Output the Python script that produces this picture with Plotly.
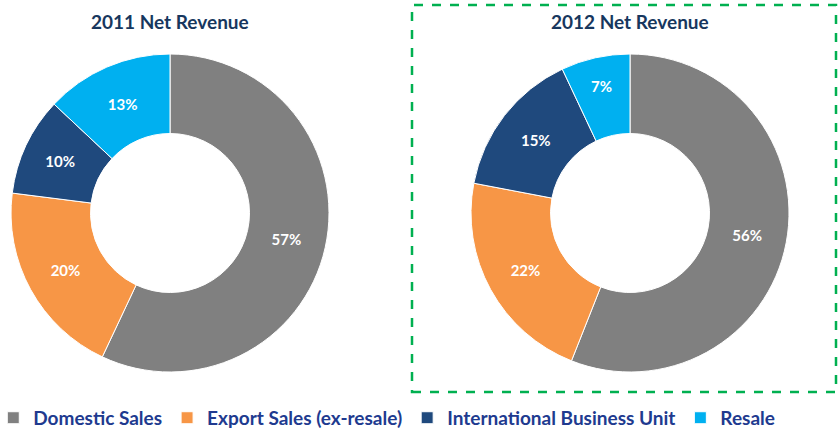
import plotly.graph_objects as go

# --- data ---
CATEGORIES = ["Domestic Sales", "Export Sales (ex-resale)", "International Business Unit", "Resale"]
REV_2011 = [57, 20, 10, 13]
REV_2012 = [56, 22, 15, 7]
COLORS = ["#808080", "#F79646", "#1F497D", "#00B0F0"]

W, H = 840, 430
FONT = "Lato"

fig = go.Figure()

# pie domains in pixels (left, right, top, bottom) converted to paper coords
def dom(x0, x1, y_top, y_bot):
    return dict(x=[x0 / W, x1 / W], y=[1 - y_bot / H, 1 - y_top / H])

for vals, d, show in [(REV_2011, dom(11, 329, 54, 372), True),
                      (REV_2012, dom(471, 789, 54, 372), False)]:
    fig.add_trace(go.Pie(
        labels=CATEGORIES, values=vals, hole=0.5, sort=False, direction="clockwise",
        rotation=0, domain=d, showlegend=show,
        marker=dict(colors=COLORS, line=dict(color="white", width=1)),
        texttemplate="%{value}%", textposition="inside",
        insidetextorientation="horizontal",
        textfont=dict(family=FONT, size=15, color="white", weight="bold"),
        hoverinfo="label+percent",
    ))

# titles
for x, txt in [(170, "2011 Net Revenue"), (630, "2012 Net Revenue")]:
    fig.add_annotation(x=x / W, y=1 - 22 / H, xref="paper", yref="paper",
                       xanchor="center", yanchor="middle",
                       text=txt, showarrow=False,
                       font=dict(family=FONT, size=19, color="#17375E", weight="bold"))

# green dashed highlight box around 2012
fig.add_shape(type="rect", xref="paper", yref="paper",
              x0=412 / W, x1=836 / W, y0=1 - 392 / H, y1=1 - 5 / H,
              line=dict(color="#00B050", width=2.5, dash="dash"))

fig.update_layout(
    width=W, height=H,
    margin=dict(l=0, r=0, t=0, b=0, autoexpand=False),
    paper_bgcolor="white", plot_bgcolor="white",
    legend=dict(orientation="h", x=-0.008, y=-0.016, xanchor="left", yanchor="bottom",
                font=dict(family=FONT, size=19, color="#203A8F", weight="bold"),
                traceorder="normal"),
)

fig.write_html("out.html", config={"displayModeBar": False},
               post_script="document.body.style.margin='0';")
